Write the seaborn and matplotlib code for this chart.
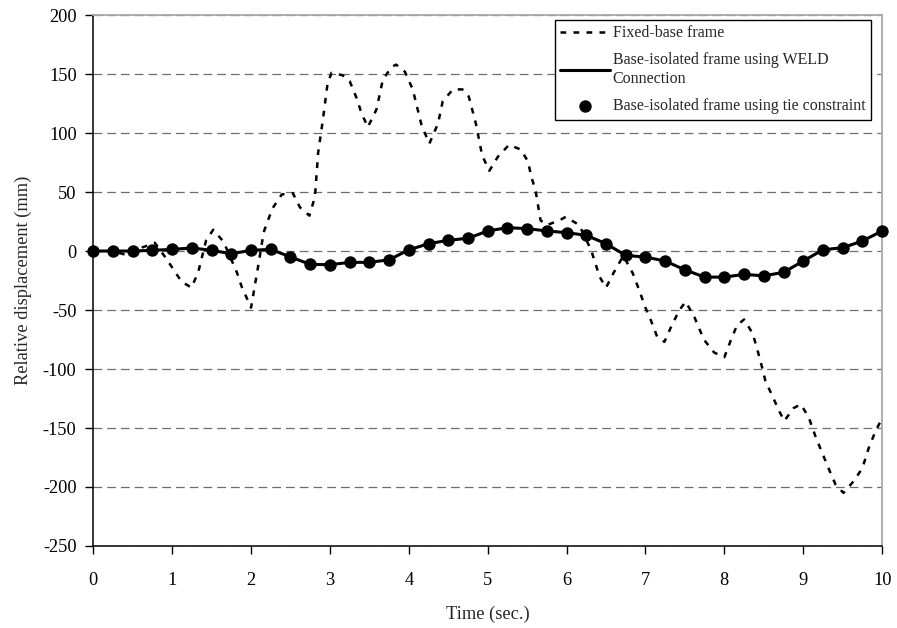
import matplotlib
matplotlib.use('Agg')
import matplotlib.pyplot as plt
import seaborn as sns

# Fixed-base frame (dashed curve)
fixed_time = [0, 0.25, 0.4, 0.49, 0.62, 0.78, 0.91, 1.01, 1.12, 1.245, 1.33, 1.43, 1.52, 1.65,
              1.82, 1.88, 2.0, 2.1, 2.16, 2.27, 2.39, 2.53, 2.62, 2.74, 2.81, 2.85, 2.91, 2.97,
              3.02, 3.16, 3.25, 3.33, 3.4, 3.48, 3.59, 3.67, 3.78, 3.84, 3.95, 4.05, 4.16, 4.26,
              4.37, 4.43, 4.56, 4.68, 4.76, 4.85, 4.93, 5.02, 5.13, 5.27, 5.42, 5.51, 5.55, 5.61,
              5.67, 5.75, 5.91, 5.99, 6.16, 6.31, 6.42, 6.5, 6.6, 6.72, 6.84, 6.92, 7.0, 7.07,
              7.15, 7.24, 7.32, 7.43, 7.51, 7.62, 7.74, 7.87, 8.0, 8.08, 8.16, 8.25, 8.36, 8.42,
              8.48, 8.52, 8.61, 8.69, 8.76, 8.88, 8.97, 9.07, 9.16, 9.24, 9.32, 9.41, 9.51, 9.64,
              9.75, 9.83, 9.92, 10.0]
fixed_disp = [0, 0, -3, -4, 3, 7, -5, -15, -26, -31, -18, 9, 18, 8,
              -18, -30, -48, -9, 16, 36, 48, 49, 37, 30, 46, 83, 111, 142,
              151, 149, 144, 131, 117, 105, 120, 145, 156, 158, 152, 137, 107, 91,
              108, 127, 137, 137, 131, 108, 81, 68, 80, 90, 86, 76, 64, 50,
              26, 22, 26, 29, 22, 1, -22, -31, -18, -4, -19, -33, -48, -59,
              -73, -77, -65, -50, -43, -56, -75, -86, -90, -76, -63, -58, -70, -84,
              -99, -110, -123, -135, -144, -133, -130, -141, -158, -171, -184, -198, -205, -195,
              -184, -167, -152, -142]

# Base-isolated frames, one marker every 0.25 s
iso_time = [0, 0.25, 0.5, 0.75, 1, 1.25, 1.5, 1.75, 2, 2.25, 2.5, 2.75, 3, 3.25, 3.5, 3.75,
            4, 4.25, 4.5, 4.75, 5, 5.25, 5.5, 5.75, 6, 6.25, 6.5, 6.75, 7, 7.25, 7.5, 7.75,
            8, 8.25, 8.5, 8.75, 9, 9.25, 9.5, 9.75, 10]
weld_disp = [0, 0, 0, 0.6, 1.4, 2.6, 0.6, -2.3, 0.6, 1.4, -5, -11.3, -11.6, -9.6, -9.6, -7.4,
             1, 6.2, 9.1, 10.8, 17, 19.8, 19, 17, 15.6, 13.3, 6.2, -3.7, -5.1, -8.5, -15.9, -22.1,
             -22.1, -19.8, -21, -18.1, -8.5, 1.1, 2.8, 8.5, 17]
tie_disp = list(weld_disp)  # the two base-isolated results coincide

x_ticks = [0, 1, 2, 3, 4, 5, 6, 7, 8, 9, 10]
y_ticks = [-250, -200, -150, -100, -50, 0, 50, 100, 150, 200]

sns.set_style('white')
plt.rcParams['font.family'] = ['Liberation Serif', 'DejaVu Serif']
plt.rcParams['axes.unicode_minus'] = False

fig = plt.figure(figsize=(8.97, 6.28), dpi=100)
ax = fig.add_axes([0.104, 0.1306, 0.8794, 0.8454])

sns.lineplot(x=fixed_time, y=fixed_disp, ax=ax, color='black', linewidth=1.8,
             linestyle=(0, (2.3, 2.9)), errorbar=None, label='Fixed-base frame', zorder=3)
sns.lineplot(x=iso_time, y=weld_disp, ax=ax, color='black', linewidth=2.2, errorbar=None,
             label='Base-isolated frame using WELD\nConnection', zorder=4, clip_on=False)
sns.scatterplot(x=iso_time, y=tie_disp, ax=ax, color='black', s=80, edgecolor='black',
                linewidth=0, label='Base-isolated frame using tie constraint', zorder=5,
                clip_on=False)

ax.set_xlim(0, 10)
ax.set_ylim(-250, 200)
ax.set_xticks(x_ticks)
ax.set_yticks(y_ticks)
ax.tick_params(axis='both', direction='out', length=6, width=1, labelsize=13.2,
               bottom=True, left=True, colors='black')
ax.tick_params(axis='x', pad=13)
ax.tick_params(axis='y', pad=6)

ax.set_axisbelow(True)
ax.yaxis.grid(True, color='#6e6e6e', linewidth=0.9, linestyle=(0, (7, 4)))
ax.xaxis.grid(False)

for side in ['left', 'bottom']:
    ax.spines[side].set_color('black')
    ax.spines[side].set_linewidth(1.1)
for side in ['top', 'right']:
    ax.spines[side].set_color('#a8a8a8')
    ax.spines[side].set_linewidth(1.3)

ax.set_xlabel('Time (sec.)', fontsize=13.2, labelpad=12)
ax.set_ylabel('Relative displacement (mm)', fontsize=13.2, labelpad=8)

leg = ax.legend(loc='upper right', bbox_to_anchor=(0.986, 0.9915), borderaxespad=0,
                fontsize=11.5, frameon=True, fancybox=False, edgecolor='black',
                framealpha=1, handlelength=3.1, handletextpad=0.2, borderpad=0.35,
                labelspacing=0.7)
leg.get_frame().set_linewidth(1.0)

fig.savefig('out.png', dpi=100)
